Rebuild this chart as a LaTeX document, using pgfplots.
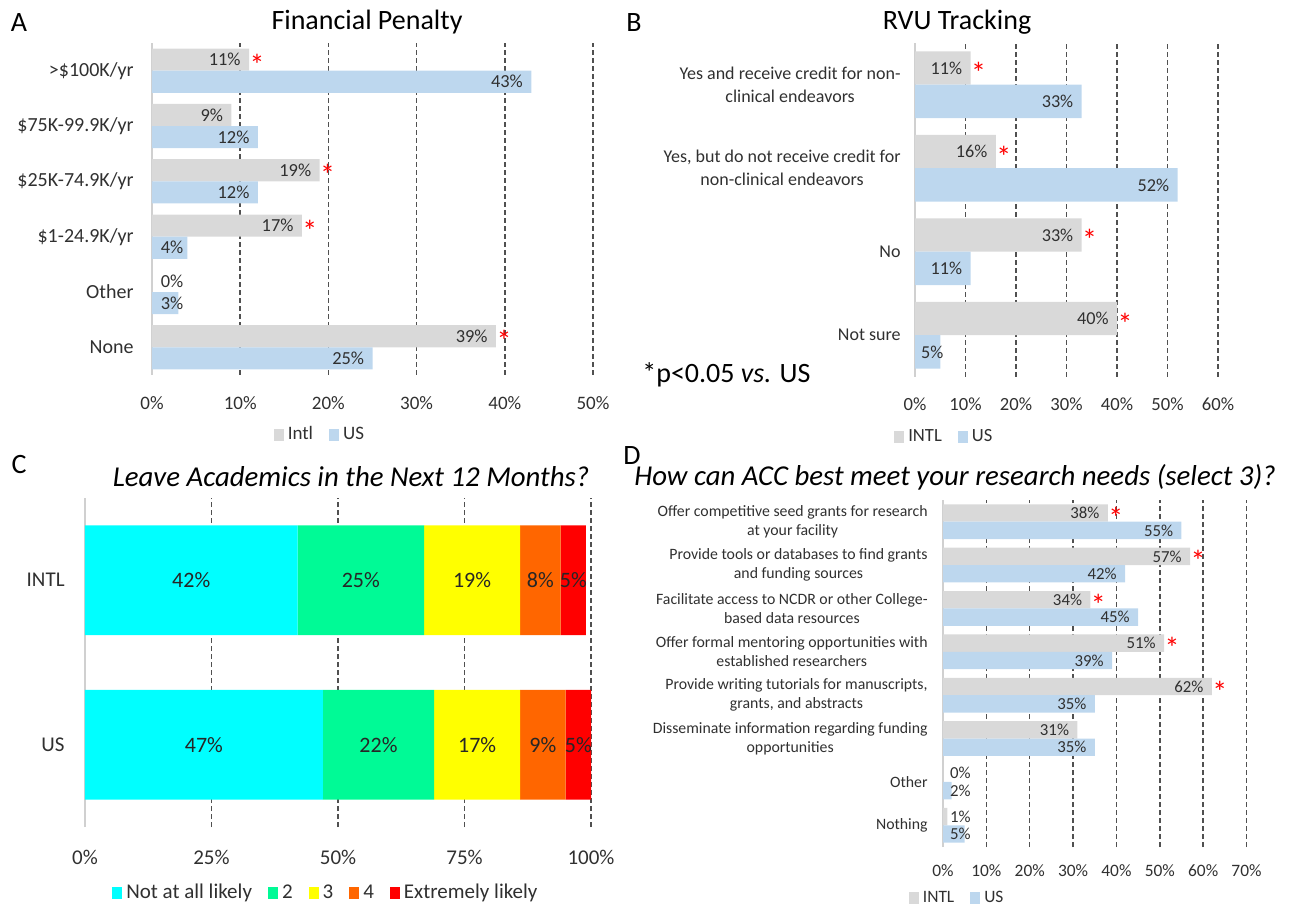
\documentclass[border=0pt]{standalone}
\usepackage{pgfplots}
\pgfplotsset{compat=1.18}
\usepackage{pgfplotstable}
\usepackage{fontspec}
\setmainfont{Carlito}
\definecolor{intl}{HTML}{D9D9D9}
\definecolor{usb}{HTML}{BDD7EE}
\definecolor{txt}{HTML}{303030}
\definecolor{gridc}{HTML}{505050}
\definecolor{axl}{HTML}{D0D0D0}
\definecolor{c1}{HTML}{00FFFF}
\definecolor{c2}{HTML}{00FA96}
\definecolor{c3}{HTML}{FFFF00}
\definecolor{c4}{HTML}{FF6600}
\definecolor{c5}{HTML}{FF0000}
\newcommand{\fs}[1]{\fontsize{#1}{#1}\selectfont}

\pgfplotsset{
  sq/.style={legend image code/.code={\fill[##1] (0pt,-3pt) rectangle (5pt,3pt);}},
  base/.style={
    scale only axis, clip=false, anchor=south west,
    axis line style={draw=none},
    major tick length=0pt,
    xmajorgrids,
    major grid style={gridc, line width=0.75pt, dash pattern=on 2.4pt off 1.6pt},
    extra x ticks={0}, extra x tick labels={0\%},
    extra x tick style={grid=major, major grid style={solid, axl, line width=0.8pt}},
    legend style={draw=none, fill=none, text=txt, anchor=center,
      /tikz/every even column/.append style={column sep=6pt}},
  },
  lab/.style={forget plot, draw=none, mark=none,
    /pgf/number format/assume math mode=true,
    nodes near coords={\pgfmathprintnumber{\pgfplotspointmeta}\%},
    every node near coord/.append style={anchor=east, xshift=-4pt, inner sep=0pt, text=txt, font=\fs{#1}}},
  star/.style={forget plot, draw=none, mark=none,
    nodes near coords={\textcolor{red}{\raisebox{-7.8pt}[3pt][3pt]{*}}},
    every node near coord/.append style={anchor=center, xshift=4pt, inner sep=0pt, font=\fs{15}}},
}

\pgfplotstableread{
y intl us
5 11 43
4 9 12
3 19 12
2 17 4
1 0 3
0 39 25
}\tA
\pgfplotstableread{
y intl us
3 11 33
2 16 52
1 33 11
0 40 5
}\tB
\pgfplotstableread{
y a b c d e
1 42 25 19 8 5
0 47 22 17 9 5
}\tC
\pgfplotstableread{
y intl us
7 38 55
6 57 42
5 34 45
4 51 39
3 62 35
2 31 35
1 0 2
0 1 5
}\tD

\begin{document}
\begin{tikzpicture}
\path[use as bounding box] (0,0) rectangle (645pt,-454pt);

% Panel letters and titles
\node[anchor=base, font=\fs{14}] at (9.5pt,-16pt) {A};
\node[anchor=base, font=\fs{14}] at (317pt,-16pt) {B};
\node[anchor=base, font=\fs{14}] at (9.5pt,-237pt) {C};
\node[anchor=base, font=\fs{14}] at (316pt,-232.5pt) {D};
\node[anchor=base, font=\fs{14}] at (183.5pt,-15pt) {Financial Penalty};
\node[anchor=base, font=\fs{14}] at (478.5pt,-15pt) {RVU Tracking};
\node[anchor=base, font=\fs{14.4}\itshape] at (175.5pt,-243.5pt) {Leave Academics in the Next 12 Months?};
\node[anchor=base, font=\fs{14.4}\itshape] at (477.5pt,-243pt) {How can ACC best meet your research needs (select 3)?};
\node[anchor=base west, inner sep=0pt, font=\fs{14}] at (321pt,-191.5pt) {*p<0.05 \textit{vs.} US};

% ---------------- Panel A
\begin{axis}[base, at={(76pt,-187.5pt)},
  width=220.5pt, height=166pt,
  xmin=0, xmax=50, ymin=-0.5, ymax=5.5,
  xtick={10,20,30,40,50}, xticklabels={10\%,20\%,30\%,40\%,50\%},
  xticklabel style={font=\fs{9.5}, text=txt, anchor=center, inner sep=0pt, yshift=-14pt},
  ytick={0,...,5},
  yticklabels={None, Other, \$1-24.9K/yr, \$25K-74.9K/yr, \$75K-99.9K/yr, >\$100K/yr},
  yticklabel style={font=\fs{10}, text=txt, anchor=east, inner sep=0pt, xshift=-9pt, align=center},
  legend style={font=\fs{9.5}, legend columns=2, at={(0.383,-0.18)}},
]
\addplot[xbar, bar width=0.4, bar shift=0.2, fill=intl, draw=none, sq] table[x=intl, y=y]{\tA};
\addplot[xbar, bar width=0.4, bar shift=-0.2, fill=usb, draw=none, sq] table[x=us, y=y]{\tA};
\legend{Intl, US}
\addplot[lab=9.2, point meta=\thisrow{intl}] table[x expr={max(\thisrow{intl},4.5)}, y expr={\thisrow{y}+0.2}]{\tA};
\addplot[lab=9.2, point meta=\thisrow{us}] table[x expr={max(\thisrow{us},4.5)}, y expr={\thisrow{y}-0.2}]{\tA};
\addplot[star] coordinates {(11,5.2) (19,3.2) (17,2.2) (39,0.2)};
\end{axis}

% ---------------- Panel B
\begin{axis}[base, at={(457.5pt,-188.5pt)},
  width=151.5pt, height=167pt,
  xmin=0, xmax=60, ymin=-0.5, ymax=3.5,
  xtick={10,20,30,40,50,60}, xticklabels={10\%,20\%,30\%,40\%,50\%,60\%},
  xticklabel style={font=\fs{9.3}, text=txt, anchor=center, inner sep=0pt, yshift=-13.5pt},
  ytick={0,...,3},
  yticklabels={Not sure, No, {Yes, but do not receive credit for\\non-clinical endeavors}, {Yes and receive credit for non-\\clinical endeavors}},
  yticklabel style={font=\fontsize{9}{11.5}\selectfont, text=txt, anchor=east, inner sep=0pt, xshift=-7pt, align=center},
  legend style={font=\fs{9.3}, legend columns=2, at={(0.1,-0.18)}},
]
\addplot[xbar, bar width=0.4, bar shift=0.2, fill=intl, draw=none, sq] table[x=intl, y=y]{\tB};
\addplot[xbar, bar width=0.4, bar shift=-0.2, fill=usb, draw=none, sq] table[x=us, y=y]{\tB};
\legend{INTL, US}
\addplot[lab=9.1, point meta=\thisrow{intl}] table[x expr={max(\thisrow{intl},7.3)}, y expr={\thisrow{y}+0.2}]{\tB};
\addplot[lab=9.1, point meta=\thisrow{us}] table[x expr={max(\thisrow{us},7.3)}, y expr={\thisrow{y}-0.2}]{\tB};
\addplot[star] coordinates {(11,3.2) (16,2.2) (33,1.2) (40,0.2)};
\end{axis}

% ---------------- Panel C
\begin{axis}[base, at={(42.5pt,-413.5pt)},
  width=253pt, height=164.5pt,
  xmin=0, xmax=100, ymin=-0.5, ymax=1.5,
  xbar stacked, bar width=0.667,
  xtick={25,50,75,100}, xticklabels={25\%,50\%,75\%,100\%},
  xticklabel style={font=\fs{10.5}, text=txt, anchor=center, inner sep=0pt, yshift=-15pt},
  ytick={0,1}, yticklabels={US, INTL},
  yticklabel style={font=\fs{10.5}, text=txt, anchor=east, inner sep=0pt, xshift=-10pt},
  legend style={font=\fs{10.5}, legend columns=5, at={(0.478,-0.2)}},
]
\addplot[fill=c1, draw=none, sq] table[x=a, y=y]{\tC};
\addplot[fill=c2, draw=none, sq] table[x=b, y=y]{\tC};
\addplot[fill=c3, draw=none, sq] table[x=c, y=y]{\tC};
\addplot[fill=c4, draw=none, sq] table[x=d, y=y]{\tC};
\addplot[fill=c5, draw=none, sq] table[x=e, y=y]{\tC};
\legend{Not at all likely, 2, 3, 4, Extremely likely}
\end{axis}
\begin{axis}[scale only axis, clip=false, anchor=south west, hide axis, at={(42.5pt,-413.5pt)},
  width=253pt, height=164.5pt,
  xmin=0, xmax=100, ymin=-0.5, ymax=1.5,
  cl/.style={draw=none, mark=none,
    /pgf/number format/assume math mode=true,
    nodes near coords={\pgfmathprintnumber{\pgfplotspointmeta}\%},
    every node near coord/.append style={anchor=center, inner sep=0pt, text=black!85, font=\fs{11}}},
]
\addplot[cl, point meta=\thisrow{a}] table[x expr={\thisrow{a}/2}, y=y]{\tC};
\addplot[cl, point meta=\thisrow{b}] table[x expr={\thisrow{a}+\thisrow{b}/2}, y=y]{\tC};
\addplot[cl, point meta=\thisrow{c}] table[x expr={\thisrow{a}+\thisrow{b}+\thisrow{c}/2}, y=y]{\tC};
\addplot[cl, point meta=\thisrow{d}] table[x expr={\thisrow{a}+\thisrow{b}+\thisrow{c}+\thisrow{d}/2}, y=y]{\tC};
\addplot[cl, point meta=\thisrow{e}] table[x expr={\thisrow{a}+\thisrow{b}+\thisrow{c}+\thisrow{d}+\thisrow{e}/2}, y=y]{\tC};
\end{axis}

% ---------------- Panel D
\begin{axis}[base, at={(471.5pt,-423.5pt)},
  width=151.75pt, height=173.5pt,
  xmin=0, xmax=70, ymin=-0.5, ymax=7.5,
  xtick={10,20,30,40,50,60,70}, xticklabels={10\%,20\%,30\%,40\%,50\%,60\%,70\%},
  xticklabel style={font=\fs{8.7}, text=txt, anchor=center, inner sep=0pt, yshift=-12pt},
  ytick={0,...,7},
  yticklabels={Nothing, Other,
    {Disseminate information regarding funding\\opportunities},
    {Provide writing tutorials for manuscripts,\\grants, and abstracts},
    {Offer formal mentoring opportunities with\\established researchers},
    {Facilitate access to NCDR or other College-\\based data resources},
    {Provide tools or databases to find grants\\and funding sources},
    {Offer competitive seed grants for research\\at your facility}},
  yticklabel style={font=\fontsize{7.9}{9.5}\selectfont, text=txt, anchor=east, inner sep=0pt, xshift=-7.5pt, align=center},
  legend style={font=\fs{8.7}, legend columns=2, at={(0.05,-0.147)}},
]
\addplot[xbar, bar width=0.4, bar shift=0.2, fill=intl, draw=none, sq] table[x=intl, y=y]{\tD};
\addplot[xbar, bar width=0.4, bar shift=-0.2, fill=usb, draw=none, sq] table[x=us, y=y]{\tD};
\legend{INTL, US}
\addplot[lab=8.4, point meta=\thisrow{intl}] table[x expr={max(\thisrow{intl},8.3)}, y expr={\thisrow{y}+0.2}]{\tD};
\addplot[lab=8.4, point meta=\thisrow{us}] table[x expr={max(\thisrow{us},8.3)}, y expr={\thisrow{y}-0.2}]{\tD};
\addplot[star] coordinates {(38,7.2) (57,6.2) (34,5.2) (51,4.2) (62,3.2)};
\end{axis}
\end{tikzpicture}
\end{document}
